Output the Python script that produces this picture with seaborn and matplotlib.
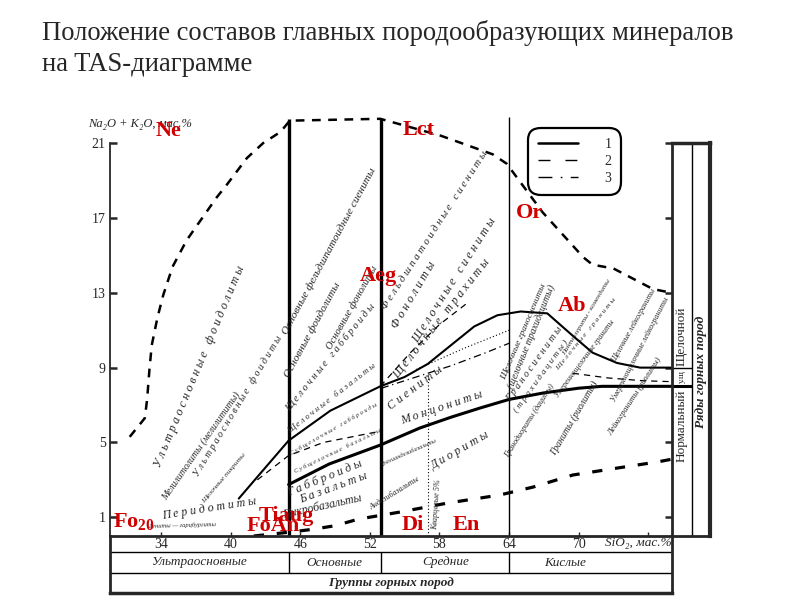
import matplotlib
matplotlib.use("Agg")
import matplotlib.pyplot as plt
import numpy as np
import seaborn as sns
from matplotlib.lines import Line2D

# SiO2 / Na2O+K2O (wt.%)
# outer dashed envelope
env_x = [31.3, 32.6, 32.8, 33.0, 33.2, 33.7, 34.2, 35.0, 36.2, 37.1, 38.8, 39.7, 41.4, 42.8,
         44.3, 45.1, 52.9, 58.1, 62.6, 63.8, 66.9, 70.4, 71.2, 73.0, 76.4, 78.0]
env_y = [5.3, 6.3, 7.3, 8.9, 10.2, 11.7, 12.9, 14.4, 15.8, 16.6, 18.1, 18.8, 20.2, 21.0,
         21.6, 22.2, 22.3, 21.4, 20.4, 19.9, 17.3, 14.9, 14.5, 14.3, 13.2, 13.0]

# lower dashed boundary
low_x = [42.0, 45.0, 47.0, 49.0, 51.0, 54.6, 58.7, 63.2, 66.1, 69.5, 73.0, 76.8, 78.0]
low_y = [0.0, 0.2, 0.35, 0.55, 0.9, 1.28, 1.76, 2.19, 2.62, 3.26, 3.6, 3.96, 4.1]

# line 1: alkaline / moderately alkaline
up_x = [40.7, 42.5, 45.0, 48.6, 52.9, 55.0, 57.0, 59.0, 61.0, 63.0, 65.0, 67.3, 69.5, 71.2,
        73.3, 75.3, 78.0]
up_y = [2.0, 3.3, 5.1, 6.7, 8.0, 8.5, 9.2, 10.2, 11.2, 11.8, 12.0, 11.9, 10.7, 9.8,
        9.25, 9.0, 9.0]

# line 1: moderately alkaline / normal
lo_x = [45.0, 48.5, 52.9, 56.3, 59.0, 61.5, 64.0, 67.0, 70.0, 72.0, 78.0]
lo_y = [2.75, 3.85, 4.86, 5.77, 6.35, 6.84, 7.3, 7.65, 7.9, 8.0, 8.0]

# line 2 (thin dashed)
d2a_x = [42.3, 45.0, 48.0, 52.9]
d2a_y = [3.0, 4.3, 5.0, 5.6]
d2b_x = [52.9, 55.5, 58.0, 60.5]
d2b_y = [8.0, 9.8, 11.3, 12.5]
d2c_x = [69.5, 72.5, 75.5, 78.0]
d2c_y = [8.7, 8.45, 8.3, 8.25]

# line 3 (dash-dot)
d3_x = [53.0, 56.0, 59.0, 62.0, 64.0]
d3_y = [7.9, 8.5, 9.1, 9.8, 10.3]

# dotted lines
dot_x = [56.0, 60.0, 64.0]
dot_y = [8.9, 10.0, 11.0]
quartz_x = [57.0]
quartz_top = [8.6]

# rock group boundaries
group_bounds = [45.0, 53.0, 64.0]
group_tops = [22.3, 22.3, 22.4]
group_names = ["Ультраосновные", "Основные", "Средние", "Кислые"]
group_label_x = [37.3, 48.9, 58.5, 68.8]

xticks = [34, 40, 46, 52, 58, 64, 70, 76]
xtick_labels = ["34", "40", "46", "52", "58", "64", "70", ""]
yticks = [1, 5, 9, 13, 17, 21]

# mineral compositions
minerals = ["Ne", "Lct", "Or", "Aeg", "Ab", "Fo$_{20}$", "Tiaug", "FoAn", "Di", "En"]
min_x = [34.65, 56.2, 65.8, 52.7, 69.4, 31.7, 44.8, 43.65, 55.7, 60.3]
min_y = [21.65, 21.7, 17.26, 13.9, 12.3, 0.75, 1.05, 0.55, 0.6, 0.6]

# rock names written along lines: (x0, y0, x1, y1, text, spaced)
rock_labels = [
    (34.2, 3.6, 44.5, 18.8, "Ультраосновные фоидолиты", True),
    (34.6, 1.8, 41.0, 7.5, "Мелилитолиты (мелилититы)", False),
    (37.4, 3.1, 44.7, 10.6, "Ультраосновные фоидиты", True),
    (37.8, 1.7, 41.4, 4.3, "Щелочные пикриты", False),
    (34.2, 0.75, 44.5, 1.76, "Перидотиты", True),
    (32.9, 0.35, 38.8, 0.45, "Дуниты — гарцбургиты", False),
    (45.0, 10.7, 52.7, 19.6, "Основные фельдшпатоидные сиениты", False),
    (45.2, 8.4, 49.6, 13.4, "Основные фоидолиты", False),
    (48.8, 9.9, 52.8, 14.3, "Основные фонолиты", False),
    (45.2, 6.6, 52.7, 12.3, "Щелочные габброиды", True),
    (45.2, 5.4, 52.7, 9.0, "Щелочные базальты", True),
    (45.3, 4.3, 52.6, 6.9, "Субщелочные габброиды", True),
    (45.6, 3.3, 52.6, 5.4, "Субщелочные базальты", True),
    (45.1, 2.0, 52.6, 3.9, "Габброиды", True),
    (46.2, 1.6, 52.3, 3.0, "Базальты", True),
    (44.6, 0.8, 52.8, 1.9, "Пикробазальты", False),
    (53.5, 12.0, 62.4, 20.5, "Фельдшпатоидные сиениты", True),
    (54.6, 11.0, 61.8, 18.5, "Фонолиты", True),
    (56.3, 10.2, 63.2, 16.9, "Щелочные сиениты", True),
    (54.6, 8.3, 63.5, 15.3, "Щелочные трахиты", True),
    (54.0, 6.6, 60.0, 9.4, "Сиениты", True),
    (54.9, 5.8, 62.1, 7.3, "Монцониты", True),
    (57.6, 3.4, 63.2, 5.4, "Диориты", True),
    (53.0, 3.7, 57.8, 5.0, "Трахиандезибазальты", False),
    (52.2, 1.3, 56.4, 2.9, "Андезибазальты", False),
    (58.0, 0.3, 58.3, 3.0, "Кварцевые 5%", False),
    (63.8, 8.3, 67.3, 13.4, "Щелочные граносиениты", False),
    (64.5, 7.8, 68.1, 13.3, "(щелочные трахидациты)", False),
    (64.3, 7.1, 68.8, 11.0, "Граносиениты", True),
    (64.9, 6.5, 69.3, 10.3, "(трахидациты)", True),
    (68.9, 9.6, 72.8, 13.6, "Пантеллериты - комендиты", False),
    (68.3, 8.8, 73.3, 12.6, "Щелочные граниты", True),
    (68.4, 7.3, 73.3, 11.4, "Умереннощелочные граниты", False),
    (64.1, 4.1, 68.1, 8.0, "Гранодиориты (дациты)", False),
    (68.1, 4.2, 71.8, 8.1, "Граниты (риолиты)", False),
    (73.3, 9.2, 76.8, 13.1, "Щелочные лейкограниты", False),
    (73.3, 7.1, 77.9, 12.6, "Умереннощелочные лейкограниты", False),
    (73.0, 5.3, 77.3, 9.4, "Лейкограниты (риолиты)", False),
]

sns.set_style("white")
plt.rcParams["font.family"] = ["Liberation Serif", "DejaVu Serif"]
plt.rcParams["mathtext.fontset"] = "custom"
plt.rcParams["mathtext.bf"] = "Liberation Serif:bold"
plt.rcParams["mathtext.default"] = "bf"

fig = plt.figure(figsize=(8, 6), dpi=100)

# table of rock groups under the x axis (drawn first, transparent)
tab = fig.add_axes([110 / 800, 7 / 600, 562 / 800, 57 / 600])
tab.patch.set_visible(False)
tab.set_xlim(29.6, 78.05)
tab.set_ylim(0, 57)
tab.set_xticks([])
tab.set_yticks([])
tab.spines["top"].set_visible(False)
for side, lw in [("left", 2.0), ("right", 2.0), ("bottom", 2.5)]:
    tab.spines[side].set_linewidth(lw)
tab.axhline(41, color="black", lw=1.0)
tab.axhline(20, color="black", lw=1.0)
tab.vlines(group_bounds, 20, 41, colors="black", lw=1.0)
for name, gx in zip(group_names, group_label_x):
    tab.text(gx, 30.5, name, style="italic", fontsize=9.5, ha="center", va="center")
tab.text(53.8, 10, "Группы горных пород", style="italic", fontweight="bold",
         fontsize=9.5, ha="center", va="center")

ax = fig.add_axes([110 / 800, 64 / 600, 562 / 800, 430.3 / 600])
ax.patch.set_visible(False)
ax.set_xlim(29.6, 78.05)
ax.set_ylim(0, 23)

# boundary curves
line_kw = dict(ax=ax, color="black", estimator=None, sort=False, legend=False)
sns.lineplot(x=env_x, y=env_y, linewidth=1.8, linestyle=(0, (3.5, 3)), **line_kw)
sns.lineplot(x=low_x, y=low_y, linewidth=2.3, linestyle=(0, (3.2, 4)), **line_kw)
sns.lineplot(x=up_x, y=up_y, linewidth=1.5, **line_kw)
sns.lineplot(x=lo_x, y=lo_y, linewidth=2.2, **line_kw)
for xs, ys in [(d2a_x, d2a_y), (d2b_x, d2b_y), (d2c_x, d2c_y)]:
    sns.lineplot(x=xs, y=ys, linewidth=0.9, linestyle=(0, (5, 4)), **line_kw)
sns.lineplot(x=d3_x, y=d3_y, linewidth=0.9, linestyle=(0, (6, 3, 1, 3)), **line_kw)
sns.lineplot(x=dot_x, y=dot_y, linewidth=0.8, linestyle=(0, (1, 2)), **line_kw)
ax.vlines(quartz_x, 0, quartz_top, colors="black", linewidth=0.8, linestyles=[(0, (1, 2))])
ax.vlines(group_bounds, 0, group_tops, colors="black", linewidth=[2.4, 2.4, 1.0])

# axes
for side in ["top", "right"]:
    ax.spines[side].set_visible(False)
ax.spines["left"].set_bounds(0, 21)
ax.spines["left"].set_linewidth(1.3)
ax.spines["bottom"].set_linewidth(2.0)
ax.set_yticks(yticks)
ax.set_xticks(xticks)
ax.set_xticklabels(xtick_labels)
ax.tick_params(axis="y", direction="in", length=5, width=1.8, labelsize=10, pad=3,
               left=True, right=True, labelright=False)
ax.tick_params(axis="x", direction="in", length=3, width=1, labelsize=10, pad=1.5, bottom=True)
ax.text(-0.039, 0.957, "Na\u2082O + K\u2082O, мас.%", transform=ax.transAxes,
        style="italic", fontsize=9, ha="left", va="center")
ax.text(72.3, -0.0163, "SiO\u2082, мас.%", transform=ax.get_xaxis_transform(),
        style="italic", fontsize=9.5, ha="left", va="center")

# rock names along the fields
renderer = fig.canvas.get_renderer()
for x0, y0, x1, y1, s, spaced in rock_labels:
    if spaced:
        s = "   ".join(" ".join(w) for w in s.split(" "))
    p0 = ax.transData.transform((x0, y0))
    p1 = ax.transData.transform((x1, y1))
    t = ax.text(x0, y0, s, ha="left", va="bottom", style="italic", fontsize=7,
                rotation_mode="anchor")
    w = t.get_window_extent(renderer).width
    L = np.hypot(*(p1 - p0))
    t.set_fontsize(float(np.clip(7 * L / w, 4.5, 8.5)))
    t.set_rotation(np.degrees(np.arctan2(p1[1] - p0[1], p1[0] - p0[0])))

# minerals
for name, mx, my in zip(minerals, min_x, min_y):
    ax.text(mx, my, name, color="#d00000", fontsize=16, fontweight="bold",
            ha="center", va="center", zorder=10, clip_on=False)

# legend
handles = [Line2D([], [], color="black", lw=1.8),
           Line2D([], [], color="black", lw=1.0, ls=(0, (8.6, 10.8))),
           Line2D([], [], color="black", lw=1.0, ls=(0, (10, 6, 1.2, 6)))]
leg = ax.legend(handles, ["1", "2", "3"], loc="upper left",
                bbox_to_anchor=((528 - 110) / 562, (536 - 128) / 430.3),
                borderaxespad=0, handlelength=2.9, handletextpad=1.9, borderpad=0.7,
                labelspacing=0.3, fontsize=10, frameon=True, fancybox=True, framealpha=1,
                edgecolor="black")
leg.get_frame().set_linewidth(1.6)
leg.get_frame().set_boxstyle("round", pad=0, rounding_size=0.9)

# rock series column on the right
rb = fig.add_axes([672 / 800, 64 / 600, 38 / 800, 392.9 / 600])
rb.patch.set_visible(False)
rb.set_xlim(0, 1)
rb.set_ylim(0, 21)
rb.set_xticks([])
rb.set_yticks([])
for side, lw in [("left", 2.0), ("top", 2.5), ("right", 3.0), ("bottom", 2.0)]:
    rb.spines[side].set_linewidth(lw)
rb.axvline(0.526, color="black", lw=1.0)
rb.hlines([8, 9], 0, 0.526, colors="black", lw=[2.2, 1.0])
rb.text(0.263, 7.85, "Нормальный", rotation=90, fontsize=9.5, ha="center", va="top")
rb.text(0.263, 8.5, "у.щ", rotation=90, fontsize=6.5, ha="center", va="center")
rb.text(0.263, 9.1, "Щелочной", rotation=90, fontsize=9.5, ha="center", va="bottom")
rb.text(0.76, 8.77, "Ряды горных пород", rotation=90, fontsize=9.5, style="italic",
        fontweight="bold", ha="center", va="center")

fig.text(42 / 800, 1 - 20 / 600,
         "Положение составов главных породообразующих минералов\nна TAS-диаграмме",
         fontsize=19.2, ha="left", va="top", linespacing=1.3)

fig.savefig("out.png", dpi=100, facecolor="white")
